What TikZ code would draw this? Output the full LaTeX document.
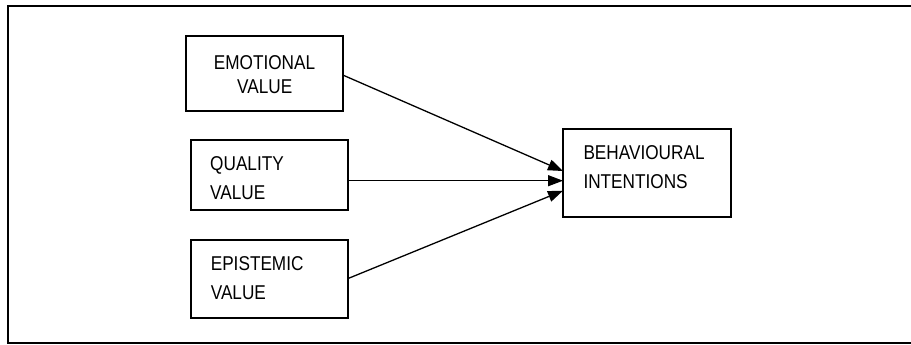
\documentclass[tikz,border=0pt]{standalone}
\usepackage{fontspec}
\newfontfamily\labfont[FakeStretch=0.86]{Liberation Sans}
\usetikzlibrary{arrows.meta}
\tikzset{
  box/.style={draw, line width=2pt, rectangle, inner sep=0pt, outer sep=0pt},
  lbl/.style={inner sep=0pt, outer sep=0pt, font=\labfont\fontsize{20}{24}\selectfont},
  conn/.style={line width=1.3pt, -{Triangle[length=15pt,width=11pt]}},
  frame/.style={draw, line width=2pt}
}
\begin{document}
\begin{tikzpicture}[x=1pt,y=-1pt]
\useasboundingbox (0,0) rectangle (911,345);
\draw[frame] (7.5,6) rectangle (918,342.7);
% boxes
\node[box, minimum width=156.5pt, minimum height=74.5pt] (emo) at (264.5,73.5) {};
\node[box, minimum width=157pt, minimum height=70pt] (qual) at (269,174.5) {};
\node[box, minimum width=157pt, minimum height=78.5pt] (epi) at (269,278.75) {};
\node[box, minimum width=167.5pt, minimum height=88.5pt] (beh) at (646.75,172.75) {};
% texts
\node[lbl, anchor=base] (emo1) at (264.5,69.2) {EMOTIONAL};
\node[lbl, anchor=base] (emo2) at (264.8,93.3) {VALUE};
\node[lbl, anchor=base west] (qual1) at (210.2,170.3) {QUALITY};
\node[lbl, anchor=base west] (qual2) at (210.2,199.3) {VALUE};
\node[lbl, anchor=base west] (epi1) at (210.8,270.7) {EPISTEMIC};
\node[lbl, anchor=base west] (epi2) at (210.8,299.3) {VALUE};
\node[lbl, anchor=base west] (beh1) at (583.5,159.3) {BEHAVIOURAL};
\node[lbl, anchor=base west] (beh2) at (583.5,188.3) {INTENTIONS};
% connectors
\draw[conn] ([yshift=-1.5pt]emo.east) -- ([yshift=1.75pt]beh.west);
\draw[conn] ([yshift=-6.2pt]qual.east) -- ([yshift=-7.95pt]beh.west);
\draw[conn] (epi.east) -- ([yshift=-17.95pt]beh.west);
\end{tikzpicture}
\end{document}
